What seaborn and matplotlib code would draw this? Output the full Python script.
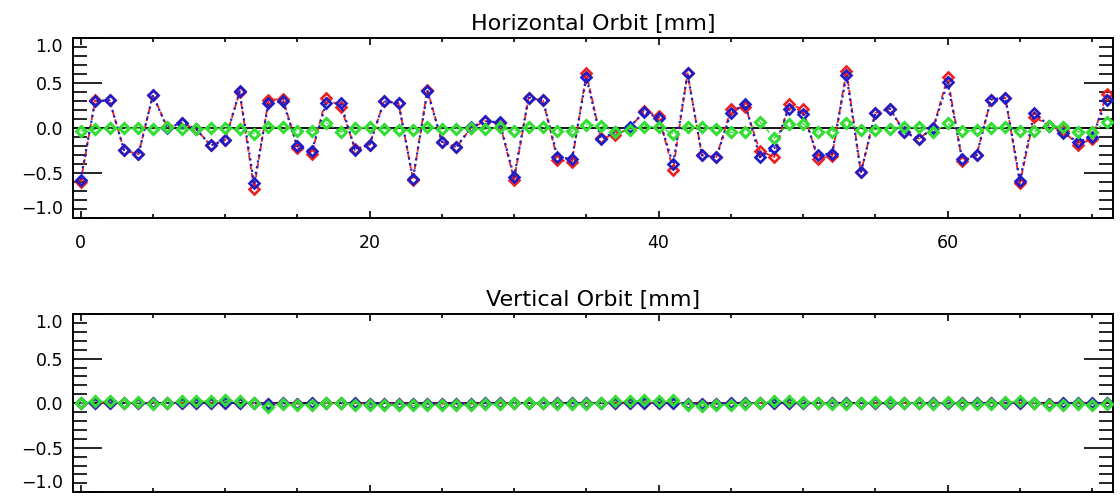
import numpy as np
import pandas as pd
import matplotlib
matplotlib.use("Agg")
import matplotlib.pyplot as plt
import seaborn as sns
from matplotlib.ticker import MultipleLocator

# ---------------- data ----------------
bpm_index = list(range(72))

h_red = [-0.60, 0.31, 0.31, -0.24, -0.29, 0.37, 0.01, 0.06, -0.01, -0.19,
         -0.13, 0.40, -0.67, 0.31, 0.33, -0.22, -0.28, 0.34, 0.24, -0.23,
         -0.18, 0.30, 0.28, -0.57, 0.43, -0.15, -0.21, 0.00, 0.08, 0.06,
         -0.57, 0.34, 0.31, -0.35, -0.37, 0.61, -0.11, -0.075, 0.00, 0.195,
         0.14, -0.46, 0.61, -0.30, -0.32, 0.21, 0.24, -0.25, -0.32, 0.27,
         0.21, -0.34, -0.31, 0.64, -0.49, 0.17, 0.22, -0.04, -0.115, 0.00,
         0.57, -0.36, -0.30, 0.32, 0.34, -0.61, 0.13, 0.03, -0.03, -0.18,
         -0.12, 0.38]

h_blue = [-0.57, 0.30, 0.31, -0.24, -0.29, 0.37, 0.00, 0.06, -0.01, -0.19,
          -0.13, 0.41, -0.61, 0.28, 0.30, -0.20, -0.25, 0.28, 0.28, -0.24,
          -0.18, 0.30, 0.28, -0.56, 0.41, -0.15, -0.21, 0.01, 0.08, 0.065,
          -0.54, 0.34, 0.31, -0.32, -0.34, 0.57, -0.12, -0.04, 0.015, 0.18,
          0.12, -0.40, 0.61, -0.30, -0.32, 0.17, 0.27, -0.32, -0.22, 0.22,
          0.16, -0.30, -0.28, 0.59, -0.49, 0.17, 0.22, -0.045, -0.115, 0.00,
          0.51, -0.34, -0.30, 0.32, 0.34, -0.58, 0.17, 0.03, -0.05, -0.15,
          -0.10, 0.31]

h_green = [-0.03, -0.01, 0.00, 0.00, 0.00, -0.01, 0.01, -0.01, -0.01, 0.00,
           0.00, -0.01, -0.06, 0.02, 0.02, -0.03, -0.03, 0.06, -0.04, 0.00,
           0.015, -0.005, -0.015, -0.02, 0.02, -0.01, -0.005, 0.00, -0.01, 0.01,
           -0.03, 0.01, 0.015, -0.03, -0.035, 0.04, 0.03, -0.04, -0.015, 0.02,
           0.02, -0.06, 0.015, 0.015, -0.005, -0.045, -0.04, 0.075, -0.11, 0.045,
           0.05, -0.04, -0.04, 0.055, -0.015, -0.015, -0.005, 0.015, 0.01, -0.04,
           0.055, -0.03, -0.02, 0.005, 0.01, -0.03, -0.035, 0.03, 0.015, -0.04,
           -0.04, 0.07]

v_red = [0.00, 0.005, 0.005, 0.00, 0.00, 0.00, 0.00, 0.005, 0.005, 0.005,
         0.005, 0.005, 0.00, -0.005, 0.00, -0.005, 0.00, 0.00, 0.00, 0.00,
         -0.005, -0.005, -0.005, -0.005, -0.005, -0.005, -0.005, -0.005, 0.00, 0.00,
         0.00, 0.00, 0.00, 0.00, 0.00, 0.00, 0.00, 0.005, 0.005, 0.005,
         0.005, 0.005, -0.005, -0.005, -0.005, 0.00, 0.00, 0.00, 0.005, 0.005,
         0.00, 0.00, 0.00, 0.00, 0.00, 0.00, 0.00, 0.00, 0.00, 0.00,
         0.00, 0.00, 0.00, 0.00, 0.00, 0.005, 0.00, -0.005, 0.00, 0.00,
         0.00, 0.00]

v_blue = [0.00, 0.005, 0.005, 0.00, 0.00, 0.00, 0.00, 0.005, 0.005, 0.005,
          0.005, 0.005, 0.00, -0.005, 0.00, -0.005, 0.00, 0.00, 0.00, 0.00,
          -0.005, -0.005, -0.005, -0.005, -0.005, -0.005, -0.005, -0.005, 0.00, 0.00,
          0.00, 0.00, 0.00, 0.00, 0.00, 0.00, 0.00, 0.005, 0.005, 0.005,
          0.005, 0.005, -0.005, -0.005, -0.005, 0.00, 0.00, 0.00, 0.005, 0.005,
          0.00, 0.00, 0.00, 0.00, 0.00, 0.00, 0.00, 0.00, 0.00, 0.00,
          0.00, 0.00, 0.00, 0.00, 0.00, 0.005, 0.00, -0.005, 0.00, 0.00,
          0.00, 0.00]

v_green = [0.00, 0.02, 0.02, 0.00, 0.01, -0.01, 0.00, 0.02, 0.025, 0.02,
           0.03, 0.02, 0.00, -0.04, -0.01, -0.02, -0.015, 0.005, 0.005, -0.015,
           -0.025, -0.025, -0.02, -0.025, -0.025, -0.025, -0.025, -0.02, -0.01, -0.01,
           0.00, 0.005, 0.00, -0.005, -0.01, -0.005, 0.005, 0.02, 0.02, 0.03,
           0.025, 0.03, -0.025, -0.03, -0.025, -0.015, -0.005, 0.005, 0.02, 0.02,
           0.01, 0.005, -0.01, -0.005, 0.005, 0.01, 0.01, 0.005, 0.00, -0.005,
           0.01, -0.005, -0.005, -0.005, 0.01, 0.02, 0.005, -0.02, -0.015, -0.01,
           -0.02, -0.01]

titles = ["Horizontal Orbit [mm]", "Vertical Orbit [mm]"]
ytick_vals = [-1.0, -0.5, 0.0, 0.5, 1.0]
xtick_vals = [0, 20, 40, 60]

# ---------------- style ----------------
sns.set_style("white")
plt.rcParams["font.family"] = ["DejaVu Sans"]
plt.rcParams["text.color"] = "black"
plt.rcParams["xtick.color"] = "black"
plt.rcParams["ytick.color"] = "black"
plt.rcParams["xtick.labelcolor"] = "black"
plt.rcParams["ytick.labelcolor"] = "black"
plt.rcParams["axes.titlecolor"] = "black"

RED = "#ee2020"
BLUE = "#1c1cc8"
GREEN = "#33dd33"

fig = plt.figure(figsize=(11.2, 4.99), dpi=100)
ax_top = fig.add_axes([0.0649, 0.5625, 0.9289, 0.3607])
ax_bot = fig.add_axes([0.0649, 0.0134, 0.9289, 0.3573])

panels = [
    (ax_top, h_red, h_blue, h_green, True),
    (ax_bot, v_red, v_blue, v_green, False),
]

for ax, red, blue, green, show_x in panels:
    df = pd.DataFrame({"idx": bpm_index, "red": red, "blue": blue, "green": green})
    ax.axhline(0, color="black", lw=1.3, zorder=1)
    sns.lineplot(data=df, x="idx", y="red", ax=ax, color=RED, lw=1.3,
                 linestyle=(0, (3, 2)), marker="D", markersize=5.5,
                 markerfacecolor="none", markeredgecolor=RED,
                 markeredgewidth=1.9, zorder=2)
    sns.lineplot(data=df, x="idx", y="blue", ax=ax, color=BLUE, lw=1.6,
                 linestyle=(0, (1, 1.6)), marker="D", markersize=5.5,
                 markerfacecolor="none", markeredgecolor=BLUE,
                 markeredgewidth=1.9, zorder=3)
    sns.lineplot(data=df, x="idx", y="green", ax=ax, color=GREEN, lw=1.0,
                 linestyle=(0, (3, 2, 1, 2)), marker="D", markersize=4.6,
                 markerfacecolor="none", markeredgecolor=GREEN,
                 markeredgewidth=2.2, zorder=4)

    ax.set_xlim(-0.55, 71.45)
    ax.set_ylim(-1.0, 1.0)
    ax.set_xlabel("")
    ax.set_ylabel("")
    ax.set_xticks(xtick_vals)
    ax.xaxis.set_minor_locator(MultipleLocator(5))
    ax.set_yticks(ytick_vals)
    ax.set_yticklabels([f"{v:.1f}".replace("-", "\u2212") for v in ytick_vals])
    ax.yaxis.set_minor_locator(MultipleLocator(0.1))
    ax.tick_params(axis="both", which="both", direction="in",
                   top=True, right=True, bottom=True, left=True, color="black")
    ax.tick_params(axis="y", which="major", length=21, width=1.2, labelsize=12.5, pad=7)
    ax.tick_params(axis="y", which="minor", length=10, width=1.2)
    ax.tick_params(axis="x", which="major", length=5, width=1.2, labelsize=12.5, pad=11)
    ax.tick_params(axis="x", which="minor", length=3, width=1.2)
    if not show_x:
        ax.tick_params(axis="x", labelbottom=False)
    labs = ax.get_yticklabels()
    labs[0].set_verticalalignment("bottom")
    labs[-1].set_verticalalignment("top")
    for s in ax.spines.values():
        s.set_color("black")
        s.set_linewidth(1.4)

ax_top.set_title(titles[0], fontsize=16, pad=6, color="black")
ax_bot.set_title(titles[1], fontsize=16, pad=6, color="black")

fig.savefig("out.png", dpi=100)
